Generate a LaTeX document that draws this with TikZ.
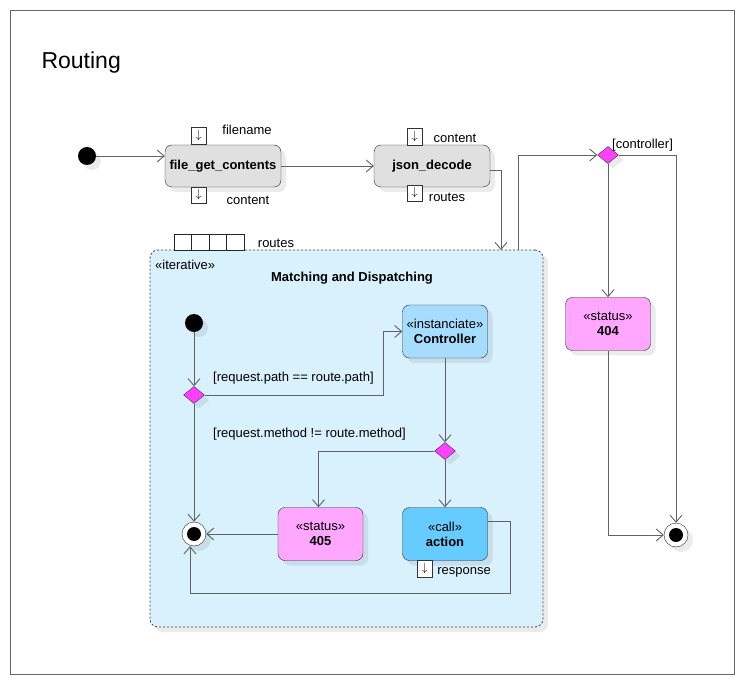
\documentclass[tikz,border=0pt]{standalone}
\usepackage{fontspec}
\setmainfont{Liberation Sans}
\usetikzlibrary{shapes.geometric,arrows.meta,shadows}
\definecolor{ActGray}{HTML}{E0E0E0}
\definecolor{StatPink}{HTML}{FFA6FF}
\definecolor{CtrlBlue}{HTML}{A6DDFF}
\definecolor{CallBlue}{HTML}{66CCFF}
\definecolor{RegionBlue}{HTML}{D9F0FD}
\definecolor{ChoiceMagenta}{HTML}{FF40FF}
\definecolor{FlowGray}{HTML}{5F6366}

\begin{document}
\begin{tikzpicture}[x=1pt,y=-1pt,font=\fontsize{13}{15}\selectfont,
  softshadow/.style={drop shadow={shadow xshift=5pt,shadow yshift=-5pt,fill=black,opacity=0.08}},
  actbox/.style={draw=black!85,rounded corners=7pt,fill=ActGray,minimum width=116pt,minimum height=42pt,align=center,font=\bfseries\fontsize{13}{15}\selectfont,softshadow},
  statbox/.style={draw=black!85,rounded corners=7pt,minimum width=85pt,minimum height=53pt,align=center,softshadow},
  pinbox/.style={draw=black!80,fill=white,minimum width=15pt,minimum height=17pt,inner sep=0pt},
  startdot/.style={circle,fill=black,minimum size=18pt,inner sep=0pt,softshadow},
  enddot/.style={circle,draw=black!85,fill=white,minimum size=24pt,inner sep=0pt,softshadow,
    path picture={\fill[black] (path picture bounding box.center) circle (7pt);}},
  choice/.style={diamond,draw=black!80,fill=ChoiceMagenta,minimum width=21pt,minimum height=17pt,inner sep=0pt,softshadow},
  flow/.style={draw=FlowGray,line width=0.9pt,-{Straight Barb[length=7pt,width=12pt]}}]
  \useasboundingbox (0,0) rectangle (744,684);
  \draw[black!60] (10,10) rectangle (734,674);
  \node[anchor=west,font=\fontsize{23}{27}\selectfont] (title) at (38,63) {Routing};

  % outer flow
  \node[startdot] (start) at (87,156) {};
  \node[actbox] (fgc) at (223,166) {file\_get\_contents};
  \node[pinbox] (fgcin) at (198.5,136) {$\downarrow$};
  \node[pinbox,minimum height=16pt] (fgcout) at (198.5,195) {$\downarrow$};
  \node (fgcinlbl) at (247,130) {filename};
  \node (fgcoutlbl) at (248,200) {content};
  \node[actbox] (jd) at (432,166) {json\_decode};
  \node[pinbox] (jdin) at (414.5,136.5) {$\downarrow$};
  \node[pinbox,minimum height=16pt] (jdout) at (414.5,193) {$\downarrow$};
  \node (jdinlbl) at (455,138) {content};
  \node (jdoutlbl) at (447,197) {routes};

  \node[choice] (ctrlchoice) at (608,155) {};
  \node[anchor=west,inner sep=1pt] (ctrllbl) at (611,145) {[controller]};
  \node[statbox,fill=StatPink] (s404) at (608,324) {«status»\\\textbf{404}};
  \node[enddot] (end) at (676,535) {};

  % expansion region
  \node[draw=black!75,dash pattern=on 2pt off 2pt,line width=0.8pt,rounded corners=8pt,fill=RegionBlue,
    minimum width=393pt,minimum height=377pt,softshadow] (region) at (346.5,438.5) {};
  \node[anchor=west,inner sep=0pt] (iterlbl) at (155,265) {«iterative»};
  \node[font=\bfseries\fontsize{13}{15}\selectfont] (regtitle) at (352,278) {Matching and Dispatching};
  \node[draw=black!85,fill=white,minimum width=70pt,minimum height=16pt,inner sep=0pt] (routespin) at (209,242) {};
  \foreach \i in {1,2,3}
    \draw[black!85] ([xshift=17.5*\i pt]routespin.north west) -- ([xshift=17.5*\i pt]routespin.south west);
  \node (routeslbl) at (276,243) {routes};
  \coordinate (regin) at (501,250);
  \coordinate (regout) at (518,250);

  % inner flow
  \node[startdot] (istart) at (194,323) {};
  \node[choice] (pathchoice) at (194,395) {};
  \node[statbox,fill=CtrlBlue] (ctrl) at (445,331.5) {«instanciate»\\\textbf{Controller}};
  \node[choice] (methchoice) at (445,451) {};
  \node[statbox,fill=StatPink] (s405) at (320.5,534) {«status»\\\textbf{405}};
  \node[statbox,fill=CallBlue] (act) at (445,534) {«call»\\\textbf{action}};
  \node[pinbox] (actout) at (424.5,568.5) {$\downarrow$};
  \node (actoutlbl) at (464,572) {response};
  \node[enddot] (iend) at (194,534) {};
  \node[anchor=west,inner sep=0pt] (pathlbl) at (213,378) {[request.path == route.path]};
  \node[anchor=west,inner sep=0pt] (methlbl) at (213,434) {[request.method != route.method]};
  \coordinate (loopturn) at (510,593);

  \draw[flow] (start) -- (start -| fgc.west);
  \draw[flow] (fgc.east) -- (jd.west);
  \draw[flow] ([yshift=-4pt]jd.east) -| (regin);
  \draw[flow] (regout) |- (ctrlchoice.west);
  \draw[flow] (ctrlchoice.east) -| (end.north);
  \draw[flow] (ctrlchoice) -- (s404);
  \draw[flow] (s404.south) |- (end.west);

  \draw[flow] (istart) -- (pathchoice);
  \draw[flow] (pathchoice.east) -| ([xshift=-19pt]ctrl.west) -- (ctrl.west);
  \draw[flow] (ctrl) -- (methchoice);
  \draw[flow] (methchoice.west) -| ([xshift=-2pt]s405.north);
  \draw[flow] (methchoice) -- (act);
  \draw[flow] (s405.west) -- (iend.east);
  \draw[flow] (pathchoice) -- (iend);
  \draw[flow] ([yshift=13pt]act.east) -| (loopturn) -| ([xshift=-4pt]iend.south);
\end{tikzpicture}
\end{document}
